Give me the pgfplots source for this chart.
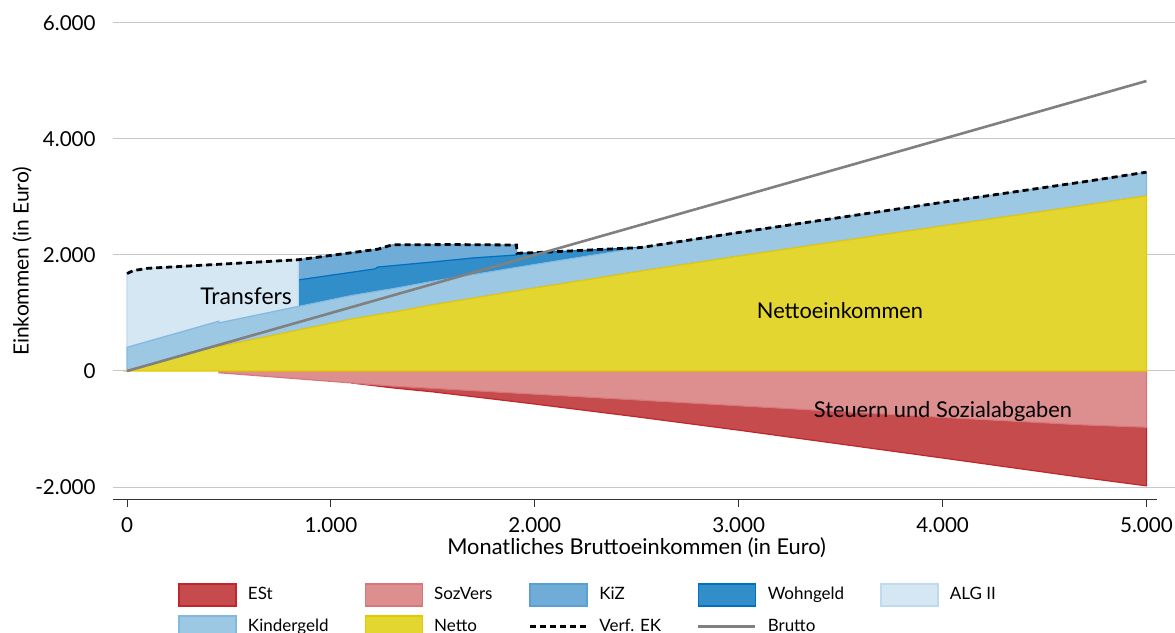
\documentclass[border=0pt]{standalone}
\usepackage{fontspec}
\setmainfont{Lato}
\usepackage{pgfplots}
\pgfplotsset{compat=1.18}

\definecolor{estF}{RGB}{198,75,77}
\definecolor{estD}{RGB}{192,39,45}
\definecolor{svF}{RGB}{221,143,144}
\definecolor{svD}{RGB}{214,120,122}
\definecolor{kizF}{RGB}{111,173,216}
\definecolor{kizD}{RGB}{90,160,210}
\definecolor{wgF}{RGB}{50,142,200}
\definecolor{wgD}{RGB}{0,112,192}
\definecolor{algF}{RGB}{213,231,243}
\definecolor{algD}{RGB}{190,218,238}
\definecolor{kgF}{RGB}{156,200,228}
\definecolor{kgD}{RGB}{130,185,225}
\definecolor{netF}{RGB}{228,214,48}
\definecolor{netD}{RGB}{230,200,0}
\definecolor{brutto}{RGB}{128,128,128}

\pgfplotsset{
  boxlegend/.style={legend image code/.code={\draw[##1, line width=0.8pt] (0pt,-5.5pt) rectangle (28.5pt,5.5pt);}},
  linelegend/.style={legend image code/.code={\draw[##1] (0pt,0pt) -- (28.5pt,0pt);}},
}

\begin{document}
\begin{tikzpicture}
\begin{axis}[name=ax, scale only axis, width=531pt, height=238.5pt,
  xmin=-69, xmax=5140, ymin=-2224, ymax=6000,
  axis line style={draw=none},
  xtick={0,1000,2000,3000,4000,5000},
  ytick={-2000,0,2000,4000,6000},
  xtick pos=lower, ytick pos=left, tick align=outside,
  major tick length=3.5pt,
  xtick style={draw=black!80, line width=0.5pt},
  ytick style={draw=none},
  ymajorgrids, major grid style={draw=black!22, line width=0.5pt},
  scaled ticks=false,
  /pgf/number format/1000 sep={.},
  /pgf/number format/assume math mode=true,
  ticklabel style={font=\fontsize{10.3}{12}\selectfont},
  yticklabel style={inner xsep=0pt, xshift=-5pt},
  xticklabel style={yshift=-2pt},
  xlabel={Monatliches Bruttoeinkommen (in Euro)},
  ylabel={Einkommen (in Euro)},
  xlabel style={font=\fontsize{10.9}{12}\selectfont, at={(axis description cs:0.493,-0.1006)}, anchor=center},
  ylabel style={font=\fontsize{10.5}{12}\selectfont, at={(axis description cs:-0.0857,0.5)}, anchor=center, rotate=0},
  legend columns=5,
  legend cell align=left,
  legend style={at={(axis description cs:0.0612,-0.174)}, anchor=north west,
    draw=none, fill=none, inner sep=0pt,
    font=\fontsize{8.5}{10}\selectfont,
    row sep=4pt,
    /tikz/every even column/.append style={column sep=16pt},
    /tikz/every odd column/.append style={column sep=3.5pt}},
]
% ESt
\addplot[boxlegend, fill=estF, draw=estD, line width=0.6pt] coordinates {
(1100,-206) (1300,-260) (1500,-300) (1913,-383) (2000,-400) (2500,-500) (3000,-600) (3500,-700) (4000,-800) (4500,-894) (4690,-930) (5000,-970)
(5000,-1980) (4690,-1837) (4500,-1744) (4000,-1500) (3500,-1260) (3000,-1020) (2500,-790) (2000,-570) (1913,-533) (1500,-360) (1300,-290) (1100,-206)
} -- cycle;
\addlegendentry{ESt}
% SozVers
\addplot[boxlegend, fill=svF, draw=svD, line width=0.6pt] coordinates {
(450,0) (5000,0) (5000,-970) (4690,-930) (4500,-894) (4000,-800) (3500,-700) (3000,-600) (2500,-500) (2000,-400) (1913,-383) (1500,-300) (1300,-260) (1100,-206) (840,-135) (451,-30) (450,0)
} -- cycle;
\addlegendentry{SozVers}
% KiZ
\addplot[boxlegend, fill=kizF, draw=kizD, line width=0.6pt] coordinates {
(840,1918) (1230,2100) (1300,2175) (1600,2180) (1910,2172)
(1910,2000) (1700,1950) (1500,1880) (1230,1792) (1216,1760) (840,1570)
} -- cycle;
\addlegendentry{KiZ}
% Wohngeld
\addplot[boxlegend, fill=wgF, draw=wgD, line width=0.6pt] coordinates {
(840,1570) (1216,1760) (1230,1792) (1500,1880) (1700,1950) (1910,2000) (1913,2030) (2000,2040) (2520,2129)
(2500,2118) (2000,1838) (1913,1788) (1500,1548) (1300,1418) (1230,1379) (1216,1370) (1100,1302) (840,1113)
} -- cycle;
\addlegendentry{Wohngeld}
% ALG II
\addplot[boxlegend, fill=algF, draw=algD, line width=0.6pt] coordinates {
(0,1680) (30,1730) (100,1770) (450,1840) (840,1918)
(840,1113) (451,829) (450,858) (0,408)
} -- cycle;
\addlegendentry{ALG II}
% Kindergeld
\addplot[boxlegend, fill=kgF, draw=kgD, line width=0.6pt] coordinates {
(0,408) (450,858) (451,829) (840,1113) (1100,1302) (1216,1370) (1230,1379) (1300,1418) (1500,1548) (1913,1788) (2000,1838) (2500,2118) (2520,2129) (3000,2388) (3500,2648) (4000,2908) (4500,3164) (4690,3261) (5000,3428)
(5000,3020) (4690,2853) (4500,2756) (4000,2500) (3500,2240) (3000,1980) (2520,1721) (2500,1710) (2000,1430) (1913,1380) (1500,1140) (1300,1010) (1230,971) (1216,962) (1100,894) (840,705) (451,421) (450,450) (0,0)
} -- cycle;
\addlegendentry{Kindergeld}
% Netto
\addplot[boxlegend, fill=netF, draw=netD, line width=0.6pt] coordinates {
(0,0) (450,450) (451,421) (840,705) (1100,894) (1216,962) (1230,971) (1300,1010) (1500,1140) (1913,1380) (2000,1430) (2500,1710) (2520,1721) (3000,1980) (3500,2240) (4000,2500) (4500,2756) (4690,2853) (5000,3020)
(5000,0) (0,0)
} -- cycle;
\addlegendentry{Netto}
% Verf. EK
\addplot[linelegend, black, line width=1.4pt, dash pattern=on 3pt off 2pt] coordinates {
(0,1680) (30,1730) (100,1770) (450,1840) (840,1918) (1230,2100) (1300,2175) (1600,2180) (1910,2172) (1913,2030) (2000,2040) (2520,2129) (3000,2388) (3500,2648) (4000,2908) (4500,3164) (4690,3261) (5000,3428)
};
\addlegendentry{Verf. EK}
% Brutto
\addplot[linelegend, brutto, line width=1.3pt] coordinates {(0,0) (5000,5000)};
\addlegendentry{Brutto}

\draw[black!80, line width=0.5pt] (axis cs:-69,-2224) -- (axis cs:5050,-2224);
\node[font=\fontsize{11.5}{13}\selectfont] at (axis cs:584,1293) {Transfers};
\node[font=\fontsize{10.9}{12}\selectfont] at (axis cs:3497,1034) {Nettoeinkommen};
\node[font=\fontsize{10.9}{12}\selectfont] at (axis cs:4002,-690) {Steuern und Sozialabgaben};
\end{axis}
\pgfresetboundingbox
\path[use as bounding box] ([xshift=-56.5pt,yshift=-66.5pt]ax.south west) rectangle ([yshift=11.5pt]ax.north east);
\end{tikzpicture}
\end{document}
